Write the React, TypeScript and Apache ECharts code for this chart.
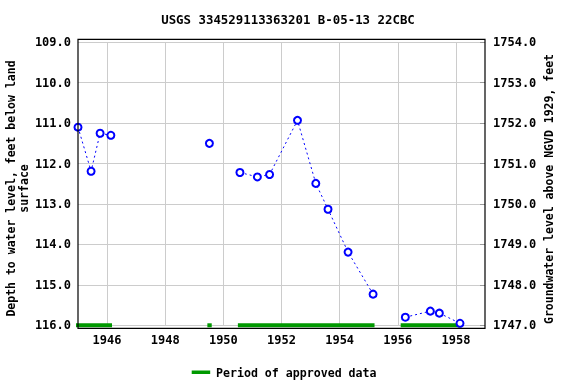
import React, { useEffect, useRef } from "react";
import * as echarts from "echarts";

const TITLE = "USGS 334529113363201 B-05-13 22CBC";
const LEFT_AXIS_NAME = "Depth to water level, feet below land\nsurface";
const RIGHT_AXIS_NAME = "Groundwater level above NGVD 1929, feet";
const LEGEND_LABEL = "Period of approved data";

// decimal years of measurements
const years = [
  1945.0, 1945.45, 1945.76, 1946.13,
  1949.52,
  1950.57, 1951.17, 1951.59, 1952.55, 1953.18, 1953.6, 1954.29, 1955.15,
  1956.26, 1957.12, 1957.43, 1958.14,
];
// depth to water level (ft below land surface)
const depths = [
  111.1, 112.19, 111.25, 111.3,
  111.5,
  112.22, 112.33, 112.27, 110.93, 112.49, 113.13, 114.19, 115.23,
  115.8, 115.65, 115.7, 115.95,
];
// connected groups [startIndex, endIndex]
const segments = [
  [0, 3],
  [4, 4],
  [5, 12],
  [13, 16],
];
// approved periods [start, end] in decimal years
const approvedStart = [1944.93, 1949.45, 1950.5, 1956.1];
const approvedEnd = [1946.17, 1949.6, 1955.2, 1958.15];

const gridYears = [1946, 1948, 1950, 1952, 1954, 1956, 1958];

const X_MIN = 1945;
const X_MAX = 1959;
const DEPTH_MIN = 109;
const DEPTH_MAX = 116;
const ELEV_MIN = 1747;
const ELEV_MAX = 1754;

const FONT = "'DejaVu Sans Mono', monospace";
const GREEN = "#009900";
const BLUE = "#0000ff";
const GRID_COLOR = "#cccccc";

export default function App() {
  const ref = useRef<HTMLDivElement>(null);

  useEffect(() => {
    if (!ref.current) return;
    const chart = echarts.init(ref.current, null, { renderer: "svg" });

    const gridLeft = 78;
    const gridRight = 485;
    const gridTop = 42.3;
    const gridBottom = 325.3;

    const series: any[] = [];

    // approved periods
    approvedStart.forEach((s, i) => {
      series.push({
        type: "line",
        xAxisIndex: 0,
        yAxisIndex: 0,
        data: [
          [s, DEPTH_MAX],
          [approvedEnd[i], DEPTH_MAX],
        ],
        showSymbol: false,
        symbol: "none",
        clip: false,
        lineStyle: { color: GREEN, width: 4, type: "solid" },
        silent: true,
        z: 3,
        markLine:
          i === 0
            ? {
                silent: true,
                symbol: "none",
                label: { show: false },
                lineStyle: { color: GRID_COLOR, width: 1, type: "solid" },
                data: gridYears.map((y) => ({ xAxis: y })),
                z: 1,
              }
            : undefined,
      });
    });

    segments.forEach(([a, b]) => {
      const data: number[][] = [];
      for (let k = a; k <= b; k++) data.push([years[k], depths[k]]);
      series.push({
        type: "line",
        xAxisIndex: 0,
        yAxisIndex: 0,
        data,
        symbol: "emptyCircle",
        symbolSize: 7,
        clip: false,
        itemStyle: { color: BLUE, borderColor: BLUE, borderWidth: 1.3 },
        lineStyle: { color: BLUE, width: 1, type: [2, 3] },
        z: 5,
      });
    });

    const option: any = {
      animation: false,
      grid: {
        left: gridLeft,
        top: gridTop,
        width: gridRight - gridLeft,
        height: gridBottom - gridTop,
        containLabel: false,
      },
      xAxis: {
        type: "value",
        min: X_MIN,
        max: X_MAX,
        interval: 1,
        axisLine: { show: false },
        axisTick: { show: false },
        splitLine: { show: false },
        axisLabel: {
          margin: 9,
          fontFamily: FONT,
          fontSize: 12,
          fontWeight: "bold",
          color: "#000",
          formatter: (v: number) => (Math.round(v) % 2 === 0 ? String(Math.round(v)) : ""),
        },
      },
      yAxis: [
        {
          type: "value",
          inverse: true,
          min: DEPTH_MIN,
          max: DEPTH_MAX,
          interval: 1,
          position: "left",
          axisLine: { show: false },
          axisTick: { show: false },
          splitLine: { show: true, lineStyle: { color: GRID_COLOR, width: 1 } },
          axisLabel: {
            margin: 7,
            fontFamily: FONT,
            fontSize: 12,
            fontWeight: "bold",
            color: "#000",
            formatter: (v: number) => v.toFixed(1),
          },
        },
        {
          type: "value",
          min: ELEV_MIN,
          max: ELEV_MAX,
          interval: 1,
          position: "right",
          axisLine: { show: false },
          axisTick: { show: true, inside: true, length: 5, lineStyle: { color: "#999" } },
          splitLine: { show: false },
          axisLabel: {
            margin: 8,
            fontFamily: FONT,
            fontSize: 12,
            fontWeight: "bold",
            color: "#000",
            formatter: (v: number) => v.toFixed(1),
          },
        },
      ],
      series,
      graphic: [
        {
          type: "rect",
          z: 100,
          silent: true,
          shape: { x: 78, y: 39.3, width: 407, height: 289 },
          style: { fill: "none", stroke: "#000", lineWidth: 1.2 },
        },
        {
          type: "text",
          x: 288,
          y: 19,
          style: {
            text: TITLE,
            font: `bold 12.4px ${FONT}`,
            fill: "#000",
            align: "center",
            verticalAlign: "middle",
          },
        },
        {
          type: "text",
          x: 17,
          y: 188.5,
          rotation: Math.PI / 2,
          style: {
            text: LEFT_AXIS_NAME,
            font: `bold 11.5px ${FONT}`,
            fill: "#000",
            align: "center",
            verticalAlign: "middle",
            lineHeight: 13,
          },
        },
        {
          type: "text",
          x: 548.5,
          y: 189,
          rotation: Math.PI / 2,
          style: {
            text: RIGHT_AXIS_NAME,
            font: `bold 11.5px ${FONT}`,
            fill: "#000",
            align: "center",
            verticalAlign: "middle",
          },
        },
        {
          type: "rect",
          shape: { x: 191.7, y: 370.5, width: 18.5, height: 3.5 },
          style: { fill: GREEN },
        },
        {
          type: "text",
          x: 216,
          y: 372.5,
          style: {
            text: LEGEND_LABEL,
            font: `bold 11.6px ${FONT}`,
            fill: "#000",
            align: "left",
            verticalAlign: "middle",
          },
        },
      ],
    };

    chart.setOption(option);
    return () => chart.dispose();
  }, []);

  return (
    <div
      ref={ref}
      style={{ position: "fixed", left: 0, top: 0, width: 576, height: 384 }}
    />
  );
}
